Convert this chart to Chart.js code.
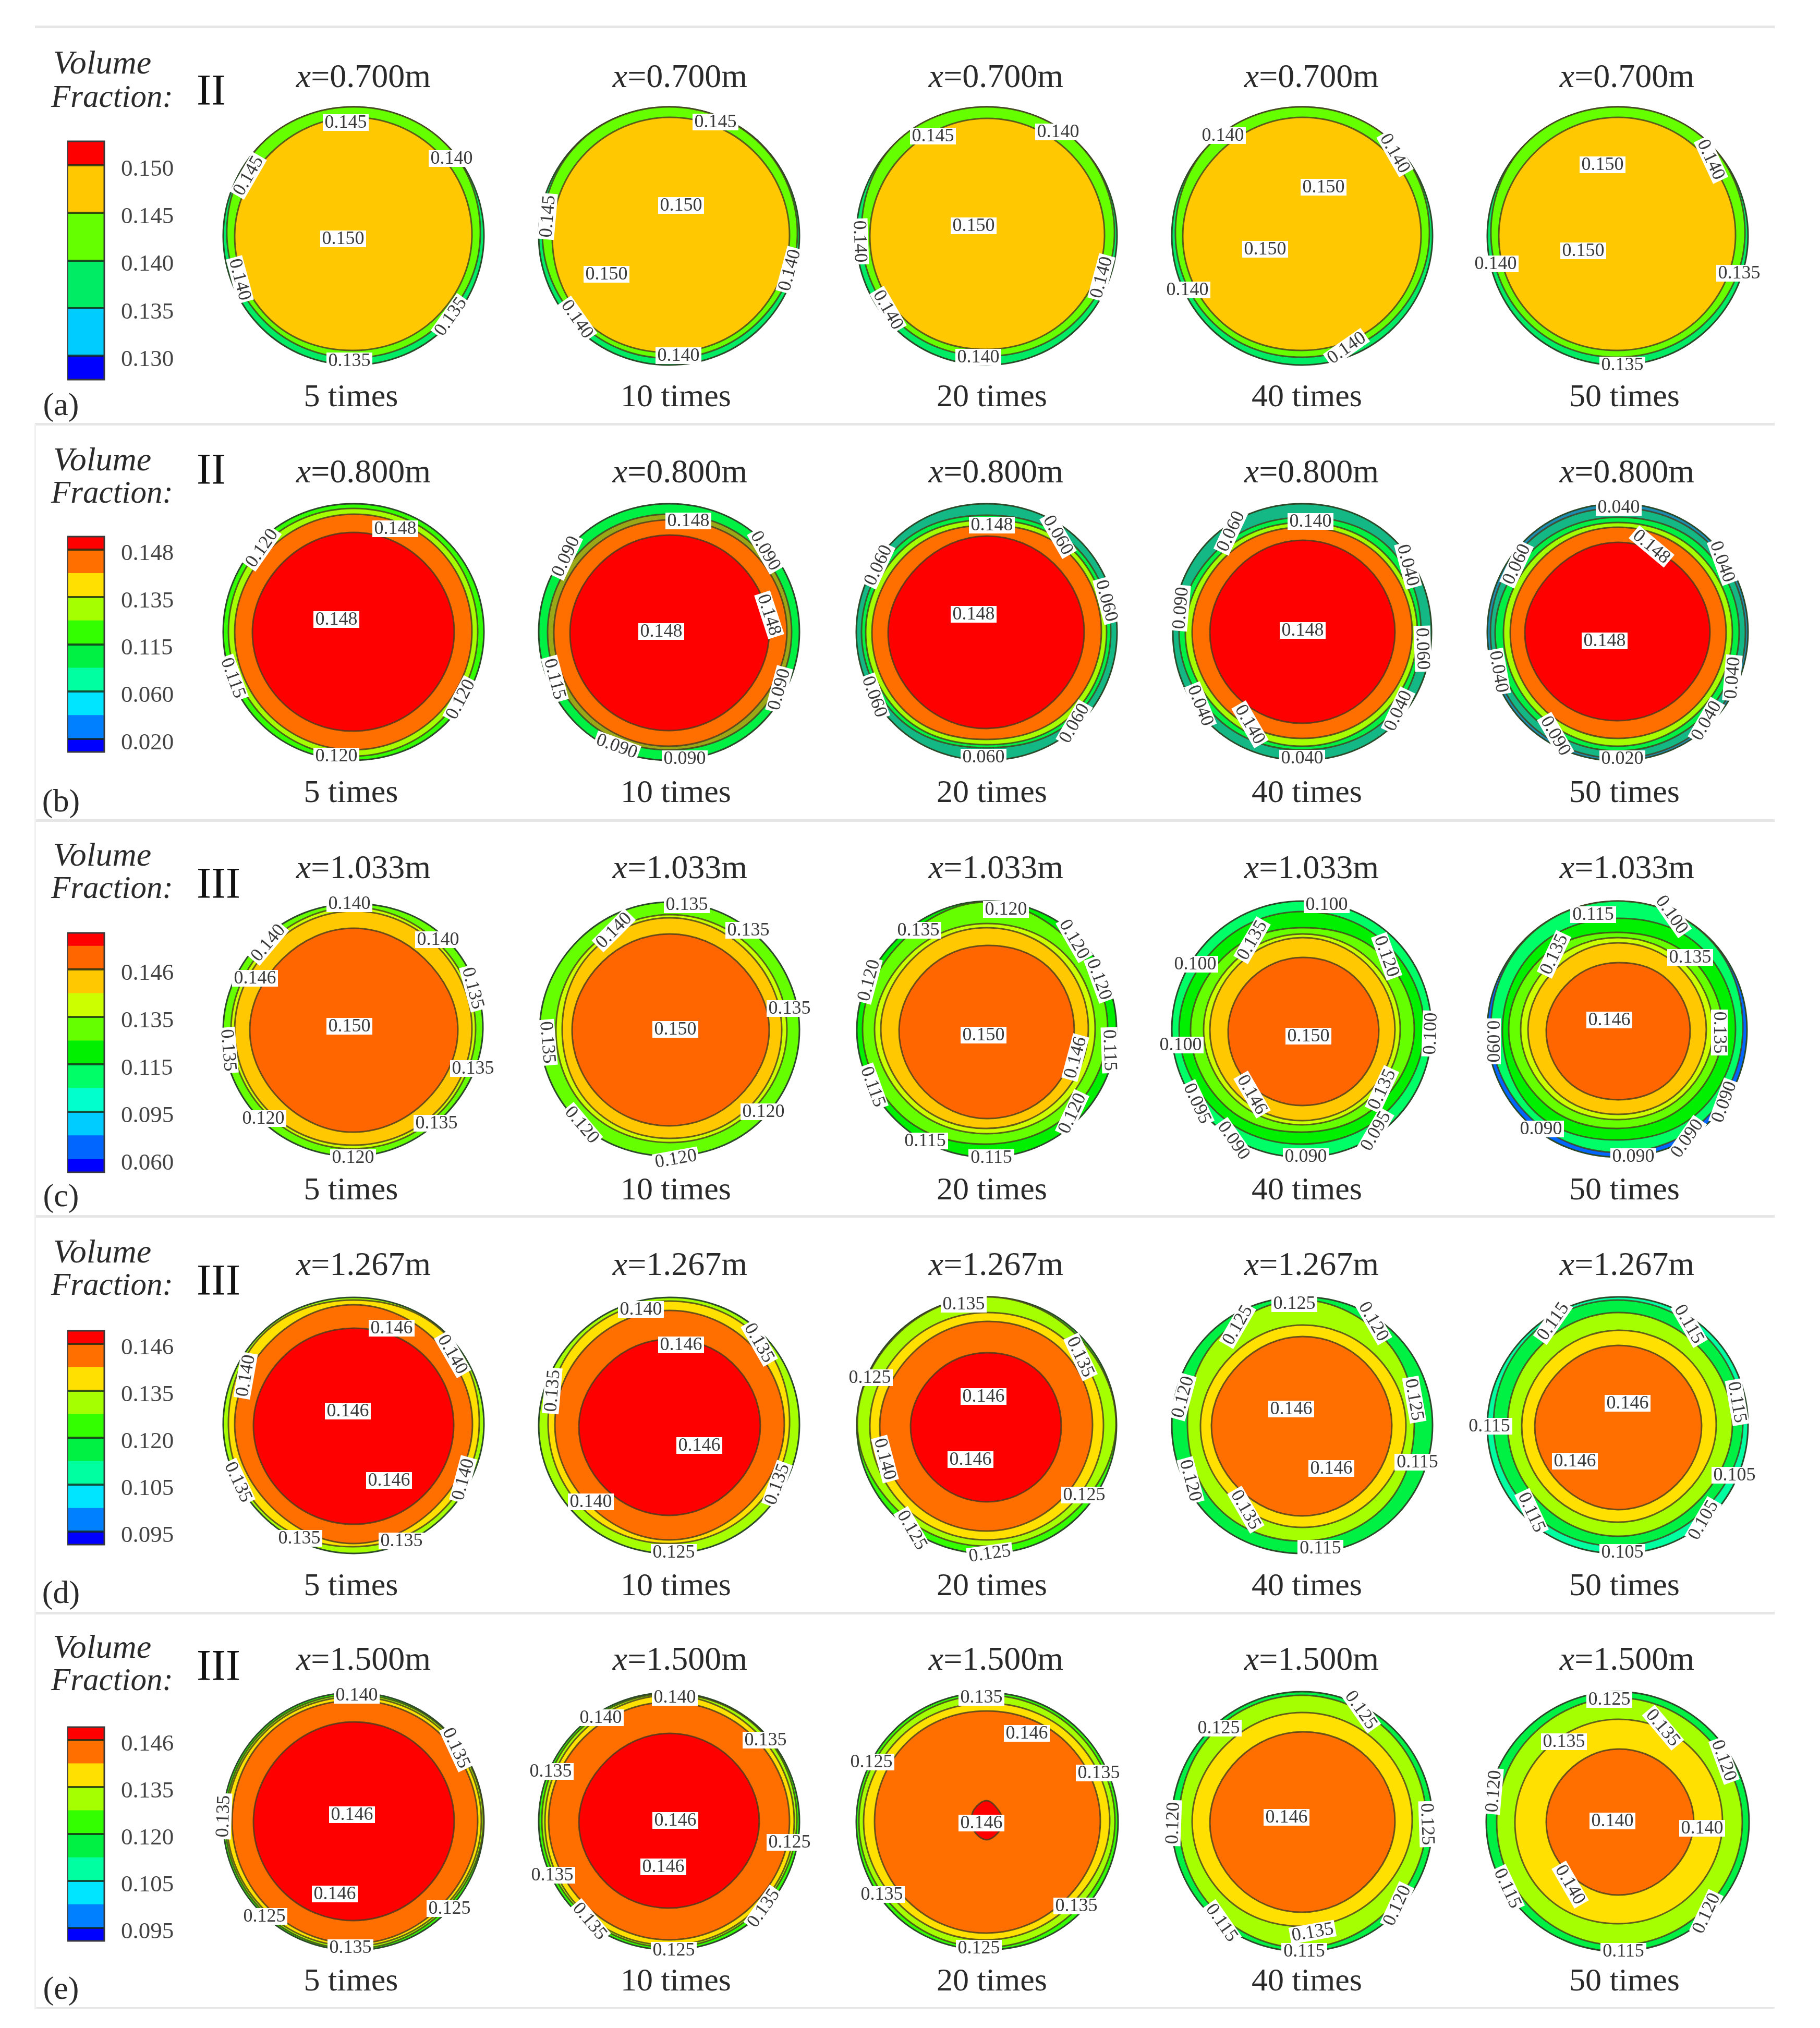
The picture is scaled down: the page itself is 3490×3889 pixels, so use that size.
<!DOCTYPE html>
<html>
<head>
<meta charset="utf-8">
<script src="https://cdn.jsdelivr.net/npm/chart.js@4/dist/chart.umd.min.js"></script>
<style>
  html, body { margin: 0; background: #fff; }
  #page { position: relative; width: 3490px; height: 3889px; overflow: hidden; font-family: 'Liberation Serif', serif; color: #2a2a2a; }
  #page canvas { position: absolute; }
  .txt { position: absolute; white-space: nowrap; line-height: 1; transform: translate(-50%, -50%); }
  .rule { position: absolute; background: #e6e6e6; }
</style>
</head>
<body>
<div id="page"></div>
<script>
const stations = ['0.700', '0.800', '1.033', '1.267', '1.500'];
const regimes = ['II', 'II', 'III', 'III', 'III'];
const rowTags = ['(a)', '(b)', '(c)', '(d)', '(e)'];
const timesLabels = ['5 times', '10 times', '20 times', '40 times', '50 times'];
const spokes = ['N', 'NE', 'E', 'SE', 'S', 'SW', 'W', 'NW'];

// colour bars, bottom to top
const legendBandsA = [1, 2, 2, 2, 2, 1];
const legendBandsB = [0.55, 1, 1, 1, 1, 1, 1, 1, 1, 0.55];
const legendBandsC = [0.55, 1, 1, 1, 1, 1, 1, 1, 1, 1, 0.55];
const legendTicksA = [1, 3, 5, 7, 9];
const legendTicksB = [0.55, 2.55, 4.55, 6.55, 8.55];
const legendLabelsA = ['0.130', '0.135', '0.140', '0.145', '0.150'];
const legendLabelsB = ['0.020', '0.060', '0.115', '0.135', '0.148'];
const legendLabelsC = ['0.060', '0.095', '0.115', '0.135', '0.146'];
const legendLabelsD = ['0.095', '0.105', '0.120', '0.135', '0.146'];

// level colours, top of the bar first
const levelsA = ['#ff0000', '#ffc800', '#66ff00', '#00ec64', '#00ccff', '#0000ff'];
const levelsB = ['#ff0000', '#ff6f00', '#ffe000', '#a6ff00', '#33ff00', '#00f044', '#00ffa0', '#00e5ff', '#0080ff', '#0000ff', '#14b884', '#1c8cb0', '#9aa818'];
const levelsC = ['#ff0000', '#ff6600', '#ffc800', '#ccff00', '#66ff00', '#00f000', '#00ff66', '#00ffcc', '#00ccff', '#0066ff', '#0000ff'];

// contours: [level, radii at N NE E SE S SW W NW], outermost first
const outerA = [248, 250, 250, 248, 247, 249, 250, 250];
const ringsA1 = [[3, outerA], [2, [248, 250, 243, 236, 233, 236, 243, 250]], [1, [228, 228, 227, 222, 219, 226, 228, 225]]];
const ringsA2 = [[3, outerA], [2, [248, 249, 246, 237, 234, 238, 243, 249]], [1, [228, 230, 231, 226, 223, 228, 224, 226]]];
const ringsA3 = [[3, outerA], [2, [248, 250, 245, 236, 230, 236, 240, 250]], [1, [226, 226, 226, 221, 217, 224, 224, 224]]];
const ringsA4 = [[3, outerA], [2, [248, 250, 244, 236, 232, 238, 243, 250]], [1, [228, 228, 228, 223, 219, 226, 229, 226]]];
const ringsA5 = [[3, outerA], [2, [248, 250, 244, 236, 232, 238, 243, 250]], [1, [228, 227, 226, 222, 219, 225, 228, 226]]];

const ringsB1 = [[4, [246, 250, 250, 249, 246, 250, 250, 250]], [3, [237, 240, 238, 238, 238, 238, 240, 240]], [1, [226, 228, 227, 226, 226, 227, 228, 226]], [0, [191, 190, 193, 190, 190, 192, 194, 190]]];
const ringsB2 = [[5, [246, 250, 250, 249, 246, 250, 250, 250]], [12, [226, 232, 235, 232, 226, 232, 233, 230]], [1, [215, 222, 226, 220, 219, 221, 221, 218]], [0, [186, 188, 192, 188, 189, 190, 190, 186]]];
const ringsB3 = [[10, [246, 250, 250, 250, 246, 250, 250, 250]], [5, [224, 236, 238, 236, 222, 236, 240, 236]], [3, [215, 228, 230, 228, 216, 228, 232, 226]], [1, [205, 218, 220, 216, 206, 218, 220, 214]], [0, [184, 184, 187, 184, 185, 186, 189, 182]]];
const ringsB4 = [[10, [246, 250, 248, 250, 246, 250, 248, 250]], [5, [220, 232, 228, 232, 226, 232, 236, 226]], [3, [210, 218, 221, 220, 219, 220, 224, 216]], [1, [201, 208, 211, 208, 204, 208, 211, 206]], [0, [176, 176, 178, 176, 175, 176, 177, 174]]];
const ringsB5 = [[11, [246, 250, 250, 250, 247, 250, 250, 250]], [10, [238, 244, 245, 245, 242, 244, 244, 243]], [5, [220, 230, 233, 230, 228, 230, 235, 226]], [3, [210, 216, 220, 218, 219, 218, 219, 214]], [1, [201, 204, 208, 206, 204, 205, 206, 202]], [0, [172, 172, 177, 172, 170, 174, 178, 170]]];

const ringsC1 = [[4, [241, 248, 248, 240, 243, 248, 250, 245]], [3, [234, 232, 234, 230, 229, 232, 235, 232]], [2, [227, 226, 227, 224, 222, 226, 228, 224]], [1, [194, 192, 200, 195, 197, 195, 199, 192]]];
const ringsC2 = [[4, [244, 246, 250, 248, 243, 248, 248, 244]], [3, [220, 222, 226, 222, 217, 220, 217, 218]], [2, [214, 212, 216, 214, 209, 210, 205, 210]], [1, [183, 184, 192, 186, 185, 186, 186, 182]]];
const ringsC3 = [[5, [246, 248, 249, 246, 245, 246, 249, 244]], [4, [244, 232, 232, 226, 220, 232, 238, 234]], [3, [203, 208, 208, 205, 200, 206, 215, 206]], [2, [195, 196, 195, 192, 190, 195, 203, 196]], [1, [161, 168, 168, 172, 171, 168, 168, 162]]];
const ringsC4 = [[6, [246, 248, 248, 248, 245, 248, 250, 248]], [5, [226, 230, 234, 226, 220, 228, 236, 228]], [4, [195, 208, 215, 205, 197, 208, 214, 204]], [3, [183, 186, 188, 185, 183, 186, 189, 184]], [2, [176, 176, 178, 176, 175, 176, 177, 174]], [1, [138, 142, 147, 148, 146, 146, 142, 138]]];
const ringsC5 = [[9, [246, 248, 248, 250, 245, 248, 250, 248]], [6, [246, 247, 240, 240, 236, 238, 243, 247]], [5, [213, 224, 226, 222, 212, 224, 221, 220]], [4, [186, 196, 201, 195, 190, 200, 209, 200]], [3, [176, 180, 183, 178, 173, 180, 186, 180]], [2, [166, 168, 170, 168, 163, 168, 172, 166]], [1, [128, 135, 139, 140, 135, 138, 137, 130]]];

const ringsD1 = [[3, [245, 250, 250, 246, 246, 246, 250, 250]], [2, [240, 248, 241, 236, 233, 240, 240, 246]], [1, [231, 226, 228, 222, 227, 222, 228, 226]], [0, [186, 190, 192, 190, 190, 190, 192, 188]]];
const ringsD2 = [[3, [245, 250, 250, 248, 246, 248, 250, 246]], [2, [238, 240, 231, 228, 227, 230, 232, 238]], [1, [220, 220, 221, 216, 220, 216, 219, 218]], [0, [165, 170, 175, 172, 173, 172, 173, 165]]];
const ringsD3 = [[4, [246, 248, 249, 248, 246, 248, 249, 246]], [3, [246, 244, 248, 236, 232, 236, 248, 244]], [2, [216, 222, 224, 222, 220, 222, 224, 218]], [1, [199, 204, 203, 202, 203, 204, 205, 198]], [0, [139, 143, 143, 146, 147, 146, 146, 140]]];
const ringsD4 = [[5, [246, 250, 250, 250, 246, 250, 250, 250]], [3, [240, 228, 215, 222, 222, 226, 220, 232]], [2, [192, 194, 199, 196, 196, 194, 195, 190]], [1, [170, 170, 172, 172, 174, 172, 174, 168]]];
const ringsD5 = [[6, [246, 250, 250, 250, 246, 250, 250, 246]], [5, [240, 240, 240, 232, 232, 235, 238, 240]], [3, [216, 216, 220, 212, 213, 210, 211, 212]], [2, [182, 186, 189, 184, 186, 184, 184, 180]], [1, [153, 156, 161, 160, 162, 158, 159, 152]]];

const ringsE1 = [[4, [248, 250, 250, 248, 246, 248, 250, 250]], [3, [244, 248, 249, 242, 243, 244, 246, 246]], [2, [240, 244, 245, 238, 238, 240, 243, 242]], [1, [233, 237, 238, 232, 233, 232, 233, 235]], [0, [192, 192, 193, 189, 189, 190, 192, 190]]];
const ringsE2 = [[4, [248, 250, 250, 248, 245, 248, 250, 250]], [3, [246, 248, 245, 240, 240, 242, 244, 246]], [2, [243, 240, 240, 236, 236, 238, 238, 240]], [1, [230, 230, 231, 226, 226, 226, 231, 230]], [0, [170, 170, 173, 166, 165, 168, 173, 168]]];
const ringsE3 = [[4, [248, 250, 252, 250, 245, 250, 250, 250]], [3, [243, 244, 246, 240, 240, 242, 245, 244]], [2, [228, 232, 236, 226, 226, 230, 236, 232]], [1, [213, 216, 218, 212, 213, 214, 215, 216]], [0, [41, 32, 31, 30, 34, 30, 29, 34]]];
const ringsE4 = [[5, [250, 250, 250, 250, 248, 250, 250, 250]], [3, [243, 240, 238, 236, 241, 238, 236, 242]], [2, [210, 210, 211, 202, 200, 206, 211, 208]], [1, [173, 176, 178, 172, 173, 174, 177, 172]]];
const ringsE5 = [[5, [250, 250, 252, 250, 248, 250, 252, 250]], [3, [238, 236, 239, 236, 236, 234, 232, 234]], [2, [197, 200, 201, 198, 195, 198, 197, 196]], [1, [140, 142, 146, 140, 140, 136, 137, 136]]];

// contour labels: [text, dx, dy, rotation]
const labelsA1 = [['0.145', -15, -218, 0], ['0.140', 188, -149, 0], ['0.145', -202, -116, -60], ['0.150', -20, 5, 0], ['0.140', -218, 83, 75], ['0.135', 186, 154, -55], ['0.135', -8, 239, 0]];
const labelsA2 = [['0.145', 89, -219, 0], ['0.150', 23, -59, 0], ['0.145', -233, -38, -85], ['0.140', 231, 65, -75], ['0.150', -120, 73, 0], ['0.140', -176, 159, 55], ['0.140', 18, 229, 0]];
const labelsA3 = [['0.145', -103, -192, 0], ['0.140', 137, -200, 0], ['0.150', -25, -20, 0], ['0.140', -243, 10, 88], ['0.140', 220, 79, -75], ['0.140', -189, 141, 60], ['0.140', -16, 232, 0]];
const labelsA4 = [['0.140', -152, -193, 0], ['0.140', 178, -159, 60], ['0.150', 41, -94, 0], ['0.150', -71, 25, 0], ['0.140', -220, 103, 0], ['0.140', 85, 214, -35]];
const labelsA5 = [['0.150', -29, -137, 0], ['0.140', 179, -147, 65], ['0.150', -66, 28, 0], ['0.140', -234, 53, 0], ['0.135', 233, 71, 0], ['0.135', 9, 247, 0]];

const labelsB1 = [['0.120', -176, -161, -55], ['0.148', 80, -198, 0], ['0.148', -33, -24, 0], ['0.115', -231, 88, 70], ['0.120', 205, 129, -62], ['0.120', -33, 238, 0]];
const labelsB2 = [['0.148', 37, -213, 0], ['0.090', -198, -145, -65], ['0.090', 185, -156, 60], ['0.148', 192, -33, 72], ['0.148', -15, -1, 0], ['0.115', -219, 90, 75], ['0.090', 211, 110, -75], ['0.090', -100, 219, 20], ['0.090', 30, 243, 0]];
const labelsB3 = [['0.148', 10, -205, 0], ['0.060', 137, -186, 60], ['0.060', -208, -128, -65], ['0.060', 230, -60, 75], ['0.148', -25, -34, 0], ['0.060', -215, 124, 70], ['0.060', 168, 175, -60], ['0.060', -6, 240, 0]];
const labelsB4 = [['0.060', -137, -193, -65], ['0.140', 16, -212, 0], ['0.040', 203, -128, 75], ['0.090', -233, -46, -85], ['0.148', 1, -3, 0], ['0.060', 231, 32, 88], ['0.040', -195, 141, 68], ['0.140', -100, 177, 60], ['0.040', 184, 151, -65], ['0.040', 0, 242, 0]];
const labelsB5 = [['0.040', 2, -239, 0], ['0.148', 65, -164, 40], ['0.060', -194, -130, -65], ['0.040', 201, -135, 70], ['0.148', -25, 17, 0], ['0.040', -228, 76, 80], ['0.040', 220, 88, -85], ['0.040', 170, 170, -60], ['0.090', -119, 199, 60], ['0.020', 9, 243, 0]];

const labelsC1 = [['0.140', -8, -241, 0], ['0.140', -164, -166, -50], ['0.140', 162, -172, 0], ['0.146', -189, -98, 0], ['0.135', 229, -79, 75], ['0.150', -8, -6, 0], ['0.135', -240, 40, 85], ['0.135', 229, 75, 0], ['0.120', -173, 171, 0], ['0.135', 159, 180, 0], ['0.120', -1, 246, 0]];
const labelsC2 = [['0.135', 34, -239, 0], ['0.140', -106, -190, -45], ['0.135', 152, -190, 0], ['0.135', 231, -40, 0], ['0.150', 12, 0, 0], ['0.135', -233, 25, 85], ['0.120', 181, 158, 0], ['0.120', -167, 183, 50], ['0.120', 13, 248, -10]];
const labelsC3 = [['0.120', 37, -230, 0], ['0.135', -131, -190, 0], ['0.120', 168, -173, 60], ['0.120', 216, -96, 70], ['0.120', -226, -94, -75], ['0.150', -6, 11, 0], ['0.146', 170, 54, -75], ['0.115', 236, 40, 88], ['0.115', -218, 110, 70], ['0.120', 164, 161, -65], ['0.115', -118, 214, 0], ['0.115', 9, 246, 0]];
const labelsC4 = [['0.100', 47, -239, 0], ['0.135', -96, -171, -60], ['0.120', 162, -140, 70], ['0.100', -205, -125, 0], ['0.100', 246, 8, -88], ['0.100', -233, 30, 0], ['0.150', 12, 13, 0], ['0.146', -96, 125, 60], ['0.135', 153, 115, -65], ['0.095', -201, 142, 65], ['0.095', 141, 195, -60], ['0.090', -131, 213, 55], ['0.090', 7, 244, 0]];
const labelsC5 = [['0.115', -47, -220, 0], ['0.100', 104, -220, 55], ['0.135', -122, -144, -65], ['0.135', 139, -138, 0], ['0.146', -16, -18, 0], ['0.135', 195, 6, 90], ['0.090', -240, 23, 90], ['0.090', 204, 139, -70], ['0.090', -147, 191, 0], ['0.090', 133, 209, -55], ['0.090', 30, 244, 0]];

const labelsD1 = [['0.146', 73, -186, 0], ['0.140', 190, -136, 60], ['0.140', -207, -95, -80], ['0.146', -11, -27, 0], ['0.146', 68, 106, 0], ['0.135', -221, 109, 65], ['0.140', 210, 104, -75], ['0.135', -104, 217, 0], ['0.135', 92, 222, 0]];
const labelsD2 = [['0.140', -54, -222, 0], ['0.146', 23, -154, 0], ['0.135', 173, -158, 60], ['0.135', -224, -66, -85], ['0.146', 58, 39, 0], ['0.135', 207, 113, -70], ['0.140', -150, 147, 0], ['0.125', 9, 244, 0]];
const labelsD3 = [['0.135', -44, -232, 0], ['0.135', 180, -131, 65], ['0.125', -224, -91, 0], ['0.146', -6, -55, 0], ['0.146', -31, 66, 0], ['0.140', -195, 65, 75], ['0.125', 187, 134, 0], ['0.125', -143, 201, 60], ['0.125', 6, 246, -8]];
const labelsD4 = [['0.125', -15, -233, 0], ['0.125', -124, -192, -60], ['0.120', 137, -199, 60], ['0.120', -229, -54, -75], ['0.125', 215, -49, 80], ['0.146', -21, -31, 0], ['0.146', 56, 83, 0], ['0.115', 221, 71, 0], ['0.120', -214, 106, 75], ['0.135', -108, 162, 60], ['0.115', 35, 236, 0]];
const labelsD5 = [['0.115', -124, -199, -55], ['0.115', 137, -194, 60], ['0.146', 19, -42, 0], ['0.115', 229, -44, 80], ['0.115', -246, 2, 0], ['0.146', -82, 69, 0], ['0.105', 224, 96, 0], ['0.115', -165, 167, 65], ['0.105', 164, 182, -60], ['0.105', 9, 244, 0]];

const labelsE1 = [['0.140', 6, -243, 0], ['0.135', 197, -142, 65], ['0.135', -250, -11, -88], ['0.146', -3, -14, 0], ['0.146', -36, 138, 0], ['0.125', -171, 181, 0], ['0.125', 184, 166, 0], ['0.135', -6, 241, 0]];
const labelsE2 = [['0.140', 11, -239, 0], ['0.140', -131, -200, 0], ['0.135', 185, -157, 0], ['0.135', -227, -97, 0], ['0.146', 12, -3, 0], ['0.125', 231, 39, 0], ['0.146', -11, 86, 0], ['0.135', -224, 102, 0], ['0.135', 181, 165, -55], ['0.135', -152, 190, 50], ['0.125', 9, 246, 0]];
const labelsE3 = [['0.135', -10, -239, 0], ['0.146', 77, -170, 0], ['0.125', -221, -115, 0], ['0.135', 215, -94, 0], ['0.146', -10, 2, 0], ['0.135', -201, 139, 0], ['0.135', 172, 161, 0], ['0.125', -15, 242, 0]];
const labelsE4 = [['0.125', 113, -215, 55], ['0.125', -160, -180, 0], ['0.146', -30, -9, 0], ['0.120', -248, 2, -88], ['0.125', 240, 4, 88], ['0.120', 182, 160, -65], ['0.115', -154, 193, 55], ['0.135', 20, 211, -10], ['0.115', 4, 248, 0]];
const labelsE5 = [['0.125', -16, -235, 0], ['0.135', 87, -181, 50], ['0.135', -103, -154, 0], ['0.120', 204, -118, 70], ['0.120', -238, -59, -85], ['0.140', -10, -2, 0], ['0.140', 162, 12, 0], ['0.140', -91, 120, 60], ['0.115', -211, 127, 65], ['0.120', 170, 175, -65], ['0.115', 11, 248, 0]];

const panelRings = [
  [ringsA1, ringsA2, ringsA3, ringsA4, ringsA5],
  [ringsB1, ringsB2, ringsB3, ringsB4, ringsB5],
  [ringsC1, ringsC2, ringsC3, ringsC4, ringsC5],
  [ringsD1, ringsD2, ringsD3, ringsD4, ringsD5],
  [ringsE1, ringsE2, ringsE3, ringsE4, ringsE5],
];
const panelLabels = [
  [labelsA1, labelsA2, labelsA3, labelsA4, labelsA5],
  [labelsB1, labelsB2, labelsB3, labelsB4, labelsB5],
  [labelsC1, labelsC2, labelsC3, labelsC4, labelsC5],
  [labelsD1, labelsD2, labelsD3, labelsD4, labelsD5],
  [labelsE1, labelsE2, labelsE3, labelsE4, labelsE5],
];

// layout of the sheet, in page pixels
const COL_X = [678, 1283, 1892, 2497, 3102];
const TITLE_X = [697, 1304, 1910, 2515, 3120];
const TIMES_X = [673, 1296, 1902, 2506, 3115];
const ROWS = [
  { cy: 453, title: 146, times: 758, vol: 120, frac: 184, num: 173, tag: 775, barTop: 271, barH: 457, levels: levelsA, bands: legendBandsA, ticks: legendTicksA, labels: legendLabelsA },
  { cy: 1212, title: 904, times: 1517, vol: 881, frac: 943, num: 900, tag: 1535, barTop: 1029, barH: 413, levels: levelsB, bands: legendBandsB, ticks: legendTicksB, labels: legendLabelsB },
  { cy: 1974, title: 1663, times: 2279, vol: 1639, frac: 1701, num: 1694, tag: 2292, barTop: 1789, barH: 459, levels: levelsC, bands: legendBandsC, ticks: legendTicksB, labels: legendLabelsC, noFirstLine: true },
  { cy: 2733, title: 2424, times: 3038, vol: 2400, frac: 2462, num: 2455, tag: 3053, barTop: 2552, barH: 410, levels: levelsB, bands: legendBandsB, ticks: legendTicksB, labels: legendLabelsD },
  { cy: 3494, title: 3181, times: 3796, vol: 3158, frac: 3220, num: 3194, tag: 3812, barTop: 3312, barH: 410, levels: levelsB, bands: legendBandsB, ticks: legendTicksB, labels: legendLabelsD },
];
const RULES_Y = [51, 813, 1573, 2332, 3093, 3851];
const PANEL = 600;
const LEGEND_INSET = 4; // room for the frame round the colour bar

const page = document.getElementById('page');

function addText(html, x, y, size, extra = '') {
  const el = document.createElement('div');
  el.className = 'txt';
  el.innerHTML = html;
  el.style.cssText = `left:${x}px;top:${y}px;font-size:${size}px;${extra}`;
  page.appendChild(el);
}

function addCanvas(left, top, w, h) {
  const c = document.createElement('canvas');
  c.width = w; c.height = h;
  c.style.cssText = `left:${left}px;top:${top}px;width:${w}px;height:${h}px;`;
  page.appendChild(c);
  return c;
}

// white boxed contour values, placed through the radial scale
const contourLabelPlugin = {
  id: 'contourLabels',
  afterDraw(chart, args, opts) {
    const { ctx } = chart;
    const r = chart.scales.r;
    ctx.save();
    ctx.font = "36px 'Liberation Serif'";
    ctx.textAlign = 'center';
    ctx.textBaseline = 'middle';
    opts.items.forEach(([text, dx, dy, rot]) => {
      const x = r.xCenter + Math.sign(dx) * r.getDistanceFromCenterForValue(Math.abs(dx));
      const y = r.yCenter + Math.sign(dy) * r.getDistanceFromCenterForValue(Math.abs(dy));
      ctx.save();
      ctx.translate(x, y);
      ctx.rotate(rot * Math.PI / 180);
      ctx.fillStyle = '#fff';
      ctx.fillRect(-44, -16, 88, 32);
      ctx.fillStyle = '#3a3a3a';
      ctx.fillText(text, 0, 1);
      ctx.restore();
    });
    ctx.restore();
  },
};

const barFramePlugin = {
  id: 'barFrame',
  afterDraw(chart) {
    const { ctx, chartArea: a } = chart;
    ctx.save();
    ctx.strokeStyle = '#3a3a3a';
    ctx.lineWidth = 3;
    ctx.strokeRect(a.left, a.top, a.right - a.left, a.bottom - a.top);
    ctx.restore();
  },
};

function renderPanel(canvas, rings, labels, levels) {
  return new Chart(canvas, {
    type: 'radar',
    data: {
      labels: spokes,
      // the first dataset is painted last, so the innermost contour goes first
      datasets: rings.map(([level, radii], i) => ({
        data: radii,
        fill: 'origin',
        backgroundColor: levels[level],
        borderColor: i === 0 ? '#2c4a2a' : 'rgba(70,60,30,0.8)',
        borderWidth: 3,
        pointRadius: 0,
        tension: 0.375,
      })).reverse(),
    },
    options: {
      responsive: false,
      animation: false,
      devicePixelRatio: 1,
      layout: { padding: 0 },
      plugins: { legend: { display: false }, tooltip: { enabled: false }, contourLabels: { items: labels } },
      scales: { r: { display: false, min: 0, max: PANEL / 2 } },
    },
    plugins: [contourLabelPlugin],
  });
}

function renderLegend(canvas, row) {
  const total = row.bands.reduce((a, b) => a + b, 0);
  const reversed = row.levels.slice(0, row.bands.length).reverse();
  return new Chart(canvas, {
    type: 'bar',
    data: {
      labels: ['Volume Fraction'],
      datasets: row.bands.map((h, i) => ({ data: [h], backgroundColor: reversed[i], categoryPercentage: 1, barPercentage: 1 })),
    },
    options: {
      responsive: false,
      animation: false,
      devicePixelRatio: 1,
      layout: { padding: { top: LEGEND_INSET, bottom: LEGEND_INSET } },
      plugins: { legend: { display: false }, tooltip: { enabled: false } },
      scales: {
        x: { stacked: true, display: false },
        y: {
          stacked: true,
          position: 'right',
          min: 0,
          max: total,
          afterBuildTicks: axis => { axis.ticks = row.ticks.map(value => ({ value })); },
          afterFit: axis => {
            axis.width = canvas.width - 71;
            // the labels sit well inside the bar height, no need for the default margin
            axis.paddingTop = 0;
            axis.paddingBottom = 0;
          },
          border: { display: false },
          grid: {
            z: 1,
            drawTicks: false,
            lineWidth: 4,
            color: ctx => (row.noFirstLine && ctx.index === 0 ? 'rgba(0,0,0,0)' : 'rgba(20,40,20,0.8)'),
          },
          ticks: {
            autoSkip: false,
            padding: 32,
            labelOffset: 8,
            color: '#444',
            font: { family: 'Liberation Serif', size: 45 },
            callback: (v, i) => row.labels[i],
          },
        },
      },
    },
    plugins: [barFramePlugin],
  });
}

RULES_Y.forEach((y, i) => {
  const r = document.createElement('div');
  r.className = 'rule';
  r.style.cssText = `left:67px;top:${y - 2}px;width:3336px;height:${i === 5 ? 3 : 5}px;`;
  page.appendChild(r);
});
const edge = document.createElement('div');
edge.className = 'rule';
edge.style.cssText = 'left:66px;top:813px;width:3px;height:3040px;background:#f1f1f1;';
page.appendChild(edge);

ROWS.forEach((row, r) => {
  addText('Volume', 196, row.vol, 64, 'font-style:italic;');
  addText('Fraction:', 215, row.frac, 61, 'font-style:italic;');
  addText(regimes[r], regimes[r] === 'II' ? 405 : 419, row.num, 84, 'color:#111;');
  addText(rowTags[r], 117, row.tag, 62);
  renderLegend(addCanvas(129, row.barTop - LEGEND_INSET, 280, row.barH + 2 * LEGEND_INSET), row);
  COL_X.forEach((cx, c) => {
    renderPanel(addCanvas(cx - PANEL / 2, row.cy - PANEL / 2, PANEL, PANEL), panelRings[r][c], panelLabels[r][c], row.levels);
    addText(`<i>x</i>=${stations[r]}m`, TITLE_X[c], row.title, 64);
    addText(timesLabels[c], TIMES_X[c], row.times, 62);
  });
});
</script>
</body>
</html>
